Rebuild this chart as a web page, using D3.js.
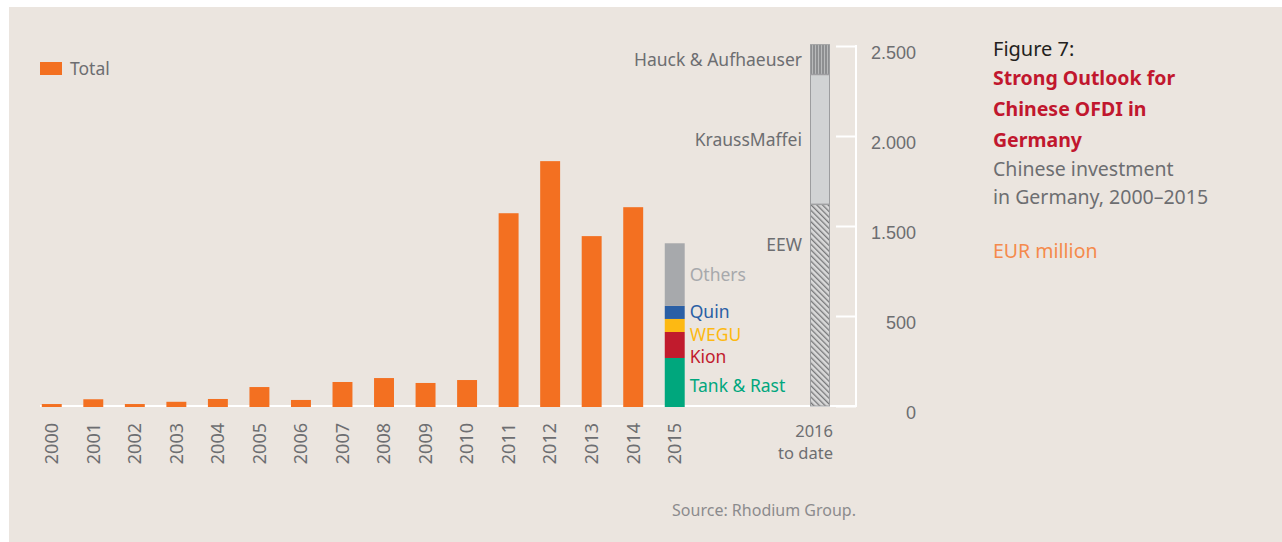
<!DOCTYPE html>
<meta charset="utf-8">
<style>
body { margin: 0; background: #fff; }
svg { font-family: "Noto Sans", sans-serif; }
.lbl { fill: #6d6e71; font-size: 17px; }
</style>
<body>
<script src="https://d3js.org/d3.v7.min.js"></script>
<script>

// chart data (EUR million)
var years = ["2000","2001","2002","2003","2004","2005","2006","2007","2008","2009","2010","2011","2012","2013","2014"];
var totals = [14, 48, 14, 30, 50, 135, 43, 171, 199, 164, 185, 1373, 1744, 1210, 1416];

var deals2015 = ["Tank & Rast", "Kion", "WEGU", "Quin", "Others"];
var values2015 = [342, 185, 93, 93, 446];
var colors2015 = ["#00a77d", "#c11b2d", "#fdb913", "#2a5fa5", "#a7a9ac"];

var deals2016 = ["EEW", "KraussMaffei", "Hauck & Aufhaeuser"];
var values2016 = [1438, 925, 214];

var tickLabels = ["0", "500", "1.500", "2.000", "2.500"];

var W = 1282, H = 542;

var svg = d3.select("body").append("svg")
    .attr("width", W)
    .attr("height", H);

// beige panel
svg.append("rect")
    .attr("x", 9).attr("y", 7)
    .attr("width", W - 9).attr("height", H - 7)
    .attr("fill", "#ebe5df");

var defs = svg.append("defs");
// diagonal hatch for EEW
var hatch = defs.append("pattern")
    .attr("id", "hatch").attr("patternUnits", "userSpaceOnUse")
    .attr("width", 4).attr("height", 4)
    .attr("patternTransform", "rotate(-45)");
hatch.append("rect").attr("width", 4).attr("height", 4).attr("fill", "#d9d9d9");
hatch.append("rect").attr("width", 1.3).attr("height", 4).attr("fill", "#77787a");
// vertical stripes for Hauck & Aufhaeuser
var vstripe = defs.append("pattern")
    .attr("id", "vstripe").attr("patternUnits", "userSpaceOnUse")
    .attr("width", 3).attr("height", 3);
vstripe.append("rect").attr("width", 3).attr("height", 3).attr("fill", "#8e8f91");
vstripe.append("rect").attr("x", 2).attr("width", 1).attr("height", 3).attr("fill", "#b9babb");

// scales
var allYears = years.concat(["2015"]);
var x = d3.scaleBand().domain(allYears).range([31, 695.5])
    .paddingInner(0.52).paddingOuter(0.26);
var x16 = d3.scaleBand().domain(["2016"]).range([810, 830]);
var y = d3.scaleLinear().domain([0, 2500]).range([406, 55]);

// axis as printed in the source (labels evenly spaced)
var yTicks = d3.scalePoint().domain(tickLabels).range([406, 46]);

// baseline
svg.append("line")
    .attr("x1", 40).attr("x2", 857)
    .attr("y1", 406).attr("y2", 406)
    .attr("stroke", "#fff").attr("stroke-width", 2);

var ax = svg.append("g")
    .attr("transform", "translate(836,0)")
    .call(d3.axisRight(yTicks).tickSize(20).tickPadding(0));
ax.select(".domain").remove();
ax.selectAll(".tick line").attr("stroke", "#fff").attr("stroke-width", 2);
ax.selectAll(".tick text")
    .attr("x", 80).attr("y", 7)
    .attr("text-anchor", "end")
    .attr("fill", "#6d6e71")
    .style("font-size", "18px");
ax.append("line")
    .attr("x1", 20).attr("x2", 20)
    .attr("y1", yTicks("2.500") - 1).attr("y2", 407)
    .attr("stroke", "#fff").attr("stroke-width", 2);

// total bars
svg.selectAll(".bar")
    .data(years)
  .enter().append("rect")
    .attr("class", "bar")
    .attr("x", function(d) { return x(d); })
    .attr("width", x.bandwidth())
    .attr("y", function(d, i) { return y(totals[i]); })
    .attr("height", function(d, i) { return y(0) - y(totals[i]) + 1; })
    .attr("fill", "#f37021");

// 2015 stacked
var acc = 0;
var seg15 = deals2015.map(function(n, i) {
  var s = { name: n, y0: acc, y1: acc + values2015[i], color: colors2015[i] };
  acc += values2015[i];
  return s;
});
svg.selectAll(".s15")
    .data(seg15)
  .enter().append("rect")
    .attr("x", x("2015"))
    .attr("width", x.bandwidth())
    .attr("y", function(d) { return y(d.y1); })
    .attr("height", function(d) { return y(d.y0) - y(d.y1) + (d.y0 === 0 ? 1 : 0); })
    .attr("fill", function(d) { return d.color; });

// labels for 2015, spread from top so they don't collide
var lblY = [];
var prev = -Infinity;
seg15.slice().reverse().forEach(function(d) {
  var yy = Math.max((y(d.y0) + y(d.y1)) / 2 + 6, prev + 22.5);
  lblY.push({ d: d, y: yy });
  prev = yy;
});
svg.selectAll(".l15")
    .data(lblY)
  .enter().append("text")
    .attr("x", x("2015") + x.bandwidth() + 5)
    .attr("y", function(d, i) { return d.y + (i === lblY.length - 1 ? 4 : 0); })
    .attr("fill", function(d) { return d.d.color; })
    .style("font-size", "17.5px")
    .text(function(d) { return d.d.name; });

// 2016 to date
acc = 0;
var seg16 = deals2016.map(function(n, i) {
  var s = { name: n, y0: acc, y1: acc + values2016[i] };
  acc += values2016[i];
  return s;
});
var fills16 = ["url(#hatch)", "#d1d3d4", "url(#vstripe)"];
var lblFrac = [0.8, 0.5, 0.5];
svg.selectAll(".s16")
    .data(seg16)
  .enter().append("rect")
    .attr("x", x16("2016") + 0.5)
    .attr("width", x16.bandwidth() - 1)
    .attr("y", function(d) { return y(d.y1) + 0.5; })
    .attr("height", function(d) { return y(d.y0) - y(d.y1) - 0.5; })
    .attr("fill", function(d, i) { return fills16[i]; })
    .attr("stroke", "#9c9d9f")
    .attr("stroke-width", 1);
svg.selectAll(".l16")
    .data(seg16)
  .enter().append("text")
    .attr("class", "lbl")
    .attr("x", x16("2016") - 8)
    .attr("y", function(d, i) { return y(d.y1) + (y(d.y0) - y(d.y1)) * (1 - lblFrac[i]) + 7; })
    .attr("text-anchor", "end")
    .style("font-size", "17.5px")
    .text(function(d) { return d.name; });

// x labels
svg.selectAll(".xl")
    .data(allYears)
  .enter().append("text")
    .attr("class", "lbl")
    .attr("transform", function(d) {
      return "translate(" + (x(d) + x.bandwidth() / 2) + ",423) rotate(-90)";
    })
    .attr("text-anchor", "end")
    .attr("dy", "0.35em")
    .style("font-size", "18px")
    .text(function(d) { return d; });

svg.append("text").attr("class", "lbl")
    .attr("text-anchor", "end").style("font-size", "16.5px")
    .attr("x", 833).attr("y", 437).text("2016");
svg.append("text").attr("class", "lbl")
    .attr("text-anchor", "end").style("font-size", "16.5px")
    .attr("x", 833).attr("y", 458.5).text("to date");

// legend
svg.append("rect").attr("x", 40).attr("y", 62).attr("width", 22).attr("height", 13).attr("fill", "#f37021");
svg.append("text").attr("class", "lbl").attr("x", 70).attr("y", 75).style("font-size", "17.5px").text("Total");

// source
svg.append("text")
    .attr("x", 856).attr("y", 516)
    .attr("text-anchor", "end")
    .attr("fill", "#8b8b8d")
    .style("font-size", "16px")
    .text("Source: Rhodium Group.");

// title block
var tb = svg.append("g").attr("transform", "translate(993,0)");
tb.append("text").attr("y", 56).attr("fill", "#231f20").style("font-size", "20px").text("Figure 7:");
["Strong Outlook for", "Chinese OFDI in", "Germany"].forEach(function(s, i) {
  tb.append("text").attr("y", 85 + i * 31).attr("fill", "#c1172e")
    .style("font-size", "19.5px").style("font-weight", "bold").text(s);
});
["Chinese investment", "in Germany, 2000\u20132015"].forEach(function(s, i) {
  tb.append("text").attr("y", 176 + i * 28).attr("fill", "#6d6e71")
    .style("font-size", "19.5px").text(s);
});
tb.append("text").attr("y", 258).attr("fill", "#f58a4c").style("font-size", "19.5px").text("EUR million");

</script>
</body>
